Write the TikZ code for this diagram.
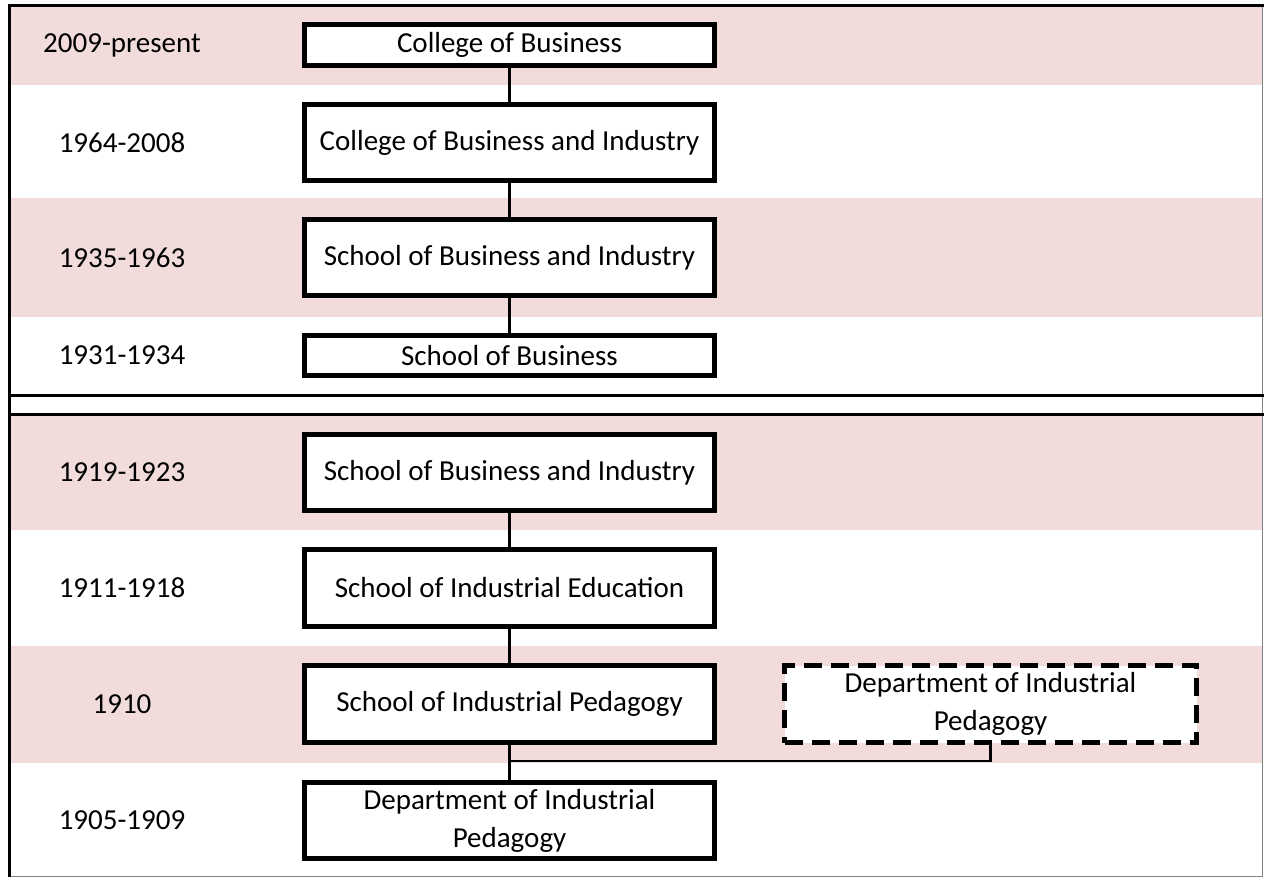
\documentclass[tikz,border=0pt]{standalone}
\usepackage{fontspec}
\setmainfont{Carlito}
\definecolor{bandpink}{HTML}{F2DCDB}
\begin{document}
\begin{tikzpicture}[x=1pt,y=-1pt,
  txt/.style={font=\fontsize{29}{38}\selectfont},
  orgbox/.style={txt, draw=black, line width=5pt, fill=white, inner sep=0pt, minimum width=410pt, align=center},
  dashbox/.style={orgbox, minimum width=412pt, dash pattern=on 18pt off 9pt},
  yearlabel/.style={txt, anchor=center},
  link/.style={draw=black, line width=2.5pt},
  frame/.style={draw=black, line width=3pt},
  thinframe/.style={draw=black!50, line width=1pt}]
\useasboundingbox (0,0) rectangle (1264,877);
% bands
\fill[bandpink] (9,7) rectangle (1263,85);
\fill[bandpink] (9,198) rectangle (1263,317);
\fill[bandpink] (9,415) rectangle (1263,530);
\fill[bandpink] (9,646) rectangle (1263,763);
% frame
\draw[thinframe] (1262.5,5) -- (1262.5,876.5) -- (9,876.5);
\draw[frame] (9.5,877) -- (9.5,5.5) -- (1264,5.5);
\draw[frame] (8,395) -- (1264,395);
\draw[frame] (8,414) -- (1264,414);
% year labels
\node[yearlabel] (y1) at (122,45) {2009-present};
\node[yearlabel] (y2) at (122,142.5) {1964-2008};
\node[yearlabel] (y3) at (122,257.5) {1935-1963};
\node[yearlabel] (y4) at (122,355.5) {1931-1934};
\node[yearlabel] (y5) at (122,472.5) {1919-1923};
\node[yearlabel] (y6) at (122,588) {1911-1918};
\node[yearlabel] (y7) at (122,704) {1910};
\node[yearlabel] (y8) at (122,820) {1905-1909};
% boxes
\node[orgbox, minimum height=41pt] (b1) at (509.5,45) {College of Business};
\node[orgbox, minimum height=76pt] (b2) at (509.5,142.5) {College of Business and Industry};
\node[orgbox, minimum height=76pt] (b3) at (509.5,257.5) {School of Business and Industry};
\node[orgbox, minimum height=40pt] (b4) at (509.5,355.5) {School of Business};
\node[orgbox, minimum height=76pt] (b5) at (509.5,472.5) {School of Business and Industry};
\node[orgbox, minimum height=77pt] (b6) at (509.5,588) {School of Industrial Education};
\node[orgbox, minimum height=77pt] (b7) at (509.5,704) {School of Industrial Pedagogy};
\node[orgbox, minimum height=76pt] (b8) at (509.5,820.5) {Department of Industrial\\Pedagogy};
\node[dashbox, minimum height=77pt] (d) at (990.5,704) {Department of Industrial\\Pedagogy};
% connectors
\draw[link] (b1.south) -- (b2.north);
\draw[link] (b2.south) -- (b3.north);
\draw[link] (b3.south) -- (b4.north);
\draw[link] (b5.south) -- (b6.north);
\draw[link] (b6.south) -- (b7.north);
\draw[link] (b7.south) -- (b8.north);
\coordinate (j) at (509.5,761);
\draw[link] (j) -| (d.south);
\end{tikzpicture}
\end{document}
